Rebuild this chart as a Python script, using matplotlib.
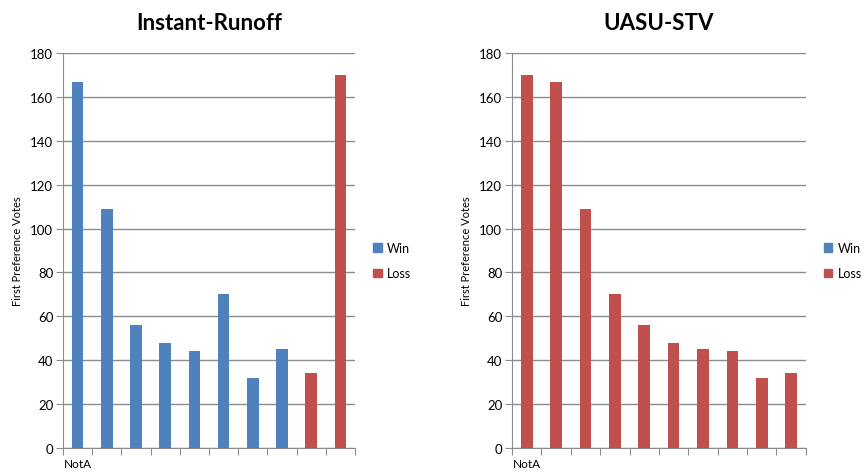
import matplotlib.pyplot as plt
from matplotlib.patches import Patch

# Candidates in each chart order; only the first one is labelled
candidate_labels = ["NotA", "", "", "", "", "", "", "", "", ""]

irv_votes = [167, 109, 56, 48, 44, 70, 32, 45, 34, 170]
irv_result = ["Win", "Win", "Win", "Win", "Win", "Win", "Win", "Win", "Loss", "Loss"]

stv_votes = [170, 167, 109, 70, 56, 48, 45, 44, 32, 34]
stv_result = ["Loss"] * 10

colors = {"Win": "#4F81BD", "Loss": "#C0504D"}
grid_color = "#8C8C8C"

plt.rcParams['font.family'] = ['Lato', 'DejaVu Sans']

fig = plt.figure(figsize=(8.67, 4.77), dpi=100)
ax1 = fig.add_axes([0.0727, 0.0587, 0.3368, 0.828])
ax2 = fig.add_axes([0.5905, 0.0587, 0.339, 0.828])


def draw_panel(ax, votes, result, title):
    x = list(range(len(votes)))
    ax.bar(x, votes, width=0.4, color=[colors[r] for r in result], zorder=3)
    ax.set_xlim(-0.5, len(votes) - 0.5)
    ax.set_ylim(0, 180)
    ax.set_yticks(range(0, 181, 20))
    ax.yaxis.grid(True, color=grid_color, linewidth=1, zorder=0)
    for side in ["top", "right"]:
        ax.spines[side].set_visible(False)
    for side in ["left", "bottom"]:
        ax.spines[side].set_color(grid_color)
    # boundary ticks between categories
    ax.set_xticks([i - 0.5 for i in range(len(votes) + 1)])
    ax.set_xticklabels([])
    ax.tick_params(axis="x", which="major", length=5, color=grid_color)
    ax.tick_params(axis="y", length=5, color=grid_color, labelsize=9.5, pad=2)
    for xi, lab in zip(x, candidate_labels):
        if lab:
            ax.text(xi, -0.025, lab, transform=ax.get_xaxis_transform(),
                    ha="center", va="top", fontsize=8.5)
    ax.set_ylabel("First Preference Votes", fontsize=8, labelpad=5)
    ax.set_title(title, fontsize=16, fontweight="bold", pad=17)


draw_panel(ax1, irv_votes, irv_result, "Instant-Runoff")
draw_panel(ax2, stv_votes, stv_result, "UASU-STV")

handles = [Patch(color=colors["Win"], label="Win"), Patch(color=colors["Loss"], label="Loss")]
for xpos in [0.427, 0.947]:
    fig.legend(handles=handles, loc="center left", bbox_to_anchor=(xpos - 0.01, 0.452),
               frameon=False, fontsize=9, handlelength=0.7, handleheight=0.7,
               handletextpad=0.4, labelspacing=1.1)

fig.savefig("out.png", dpi=100)
